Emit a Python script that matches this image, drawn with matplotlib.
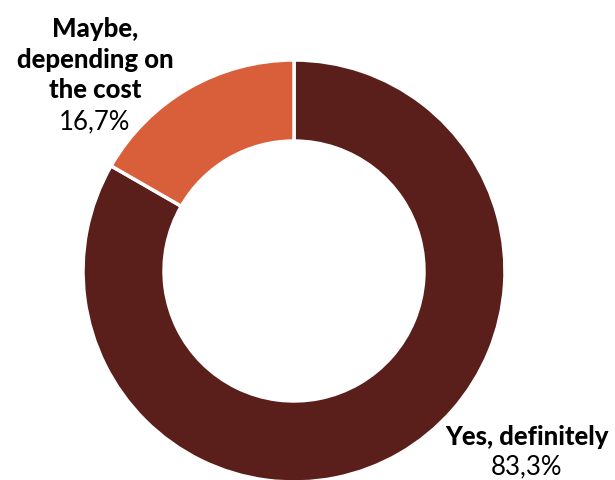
import matplotlib
matplotlib.use("Agg")
import matplotlib.pyplot as plt

categories = ["Yes, definitely", "Maybe, depending on the cost"]
shares = [83.3, 16.7]
value_labels = ["83,3%", "16,7%"]
colors = ["#5A1F1A", "#D95F3B"]

plt.rcParams['font.family'] = ['Lato', 'DejaVu Sans']

W, H = 615, 480
fig = plt.figure(figsize=(W / 100, H / 100), dpi=100)
ax = fig.add_axes([0, 0, 1, 1])

cx, cy, r = 294, H - 271, 211
ax.pie(shares, colors=colors, startangle=90, counterclock=False,
       center=(cx, cy), radius=r, frame=True,
       wedgeprops=dict(width=r * 0.384, edgecolor='white', linewidth=2.5))
ax.set_xlim(0, W)
ax.set_ylim(0, H)
ax.set_aspect('equal')
ax.axis('off')

FS = 18.5
# Labels: bold category name lines, regular percentage below
maybe_lines = ["Maybe,", "depending on", "the cost"]
for i, line in enumerate(maybe_lines):
    ax.text(95, H - (29 + 30.5 * i), line, ha='center', va='center',
            fontsize=FS, fontweight='black')
ax.text(95, H - 122, value_labels[1], ha='center', va='center', fontsize=FS)
ax.text(527, H - 437, categories[0], ha='center', va='center',
        fontsize=FS, fontweight='black')
ax.text(527, H - 467, value_labels[0], ha='center', va='center', fontsize=FS)

fig.savefig("out.png", dpi=100)
